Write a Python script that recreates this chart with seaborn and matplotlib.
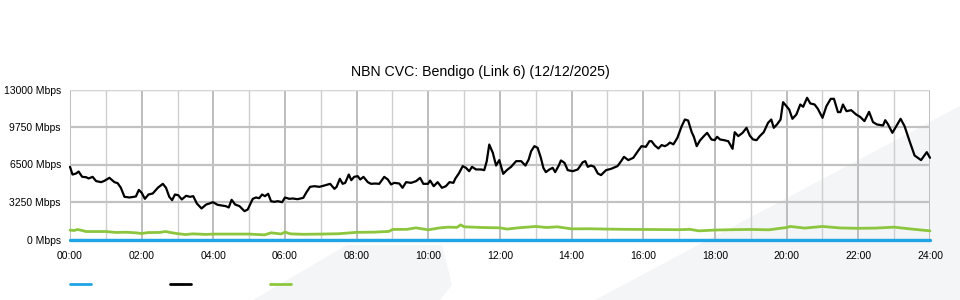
import matplotlib
matplotlib.use("Agg")
import matplotlib.pyplot as plt
from matplotlib.patches import Polygon
from matplotlib.ticker import MultipleLocator, FixedLocator
import seaborn as sns
import pandas as pd

# ---------------- data (hours of day, Mbps) ----------------
black_t = [0.00, 0.07, 0.17, 0.24, 0.34, 0.45, 0.52, 0.63, 0.73, 0.87, 0.96, 1.10, 1.24, 1.33, 1.42,
           1.52, 1.66, 1.84, 1.92, 2.00, 2.09, 2.19, 2.31, 2.45, 2.59, 2.68, 2.77, 2.85, 2.93, 3.02,
           3.12, 3.24, 3.35, 3.44, 3.54, 3.67, 3.80, 3.89, 3.99, 4.12, 4.24, 4.35, 4.43, 4.51, 4.61,
           4.73, 4.87, 4.96, 5.10, 5.19, 5.28, 5.36, 5.44, 5.53, 5.61, 5.70, 5.80, 5.92, 6.00, 6.12,
           6.21, 6.35, 6.51, 6.60, 6.70, 6.82, 6.96, 7.10, 7.26, 7.38, 7.44, 7.53, 7.61, 7.68, 7.78,
           7.85, 7.93, 8.03, 8.10, 8.19, 8.31, 8.40, 8.52, 8.63, 8.77, 8.87, 8.96, 9.05, 9.19, 9.28,
           9.38, 9.52, 9.66, 9.77, 9.86, 9.99, 10.05, 10.15, 10.26, 10.38, 10.49, 10.59, 10.70, 10.75,
           10.85, 10.96, 11.05, 11.14, 11.22, 11.33, 11.47, 11.56, 11.63, 11.70, 11.80, 11.89, 11.98,
           12.09, 12.19, 12.31, 12.45, 12.59, 12.71, 12.80, 12.87, 12.96, 13.05, 13.14, 13.21, 13.28,
           13.38, 13.47, 13.54, 13.64, 13.70, 13.80, 13.89, 14.03, 14.17, 14.31, 14.38, 14.45, 14.54,
           14.63, 14.73, 14.82, 14.96, 15.10, 15.28, 15.38, 15.46, 15.58, 15.72, 15.86, 15.95, 16.07,
           16.17, 16.23, 16.32, 16.42, 16.51, 16.60, 16.67, 16.74, 16.84, 16.95, 17.07, 17.16, 17.25,
           17.35, 17.41, 17.49, 17.58, 17.69, 17.78, 17.90, 17.99, 18.06, 18.14, 18.25, 18.37, 18.49,
           18.55, 18.65, 18.77, 18.88, 18.97, 19.06, 19.16, 19.25, 19.36, 19.48, 19.57, 19.64, 19.73,
           19.83, 19.90, 19.99, 20.07, 20.16, 20.27, 20.38, 20.46, 20.57, 20.66, 20.78, 20.87, 21.00,
           21.11, 21.23, 21.32, 21.43, 21.50, 21.57, 21.67, 21.80, 21.94, 22.05, 22.17, 22.30, 22.41,
           22.52, 22.69, 22.75, 22.82, 22.95, 23.06, 23.18, 23.29, 23.43, 23.57, 23.75, 23.91, 24.00]
black_v = [6300, 5630, 5720, 5890, 5430, 5400, 5290, 5430, 5060, 4970, 5085, 5345, 4970, 4880, 4480,
           3700, 3640, 3730, 4300, 4045, 3525, 3900, 3990, 4480, 4825, 4480, 3700, 3410, 3900, 3840,
           3470, 3785, 3700, 3755, 3120, 2690, 3030, 3120, 3235, 3005, 2950, 2890, 2775, 3440, 3030,
           2890, 2455, 2600, 3525, 3640, 3580, 3900, 3755, 3960, 3320, 3265, 3320, 3235, 3640, 3525,
           3555, 3495, 3610, 4100, 4565, 4620, 4565, 4680, 4825, 4390, 4565, 5260, 4825, 4910, 5630,
           5140, 5430, 5490, 5200, 5430, 4970, 4825, 4850, 4825, 5430, 5200, 4770, 4910, 4850, 4480,
           4970, 4910, 5060, 5345, 4825, 4825, 5110, 4620, 4970, 4480, 4620, 4970, 4910, 5260,
           5720, 6360, 6210, 5920, 6300, 6070, 6070, 6010, 6790, 8230, 7510, 6410, 6880,
           5690, 6010, 6300, 6790, 6790, 6410, 6930, 7660, 8090, 7945, 7080, 6210, 5840,
           6070, 6210, 5840, 6410, 6850, 6645, 6010, 5920, 6070, 6700, 6790, 6300, 6410,
           6300, 5720, 5580, 6010, 6125, 6360, 6790, 7165, 6880, 7080, 7710, 8090, 8030,
           8520, 8520, 8150, 7890, 8180, 8090, 8200, 8400, 8250, 8810, 9820, 10400, 10310,
           9300, 8900, 8090, 8580, 8960, 9245, 8670, 8610, 8900, 8670, 8610, 8520, 7860,
           9300, 8960, 9245, 9680, 9010, 8670, 8610, 8960, 9300, 10110, 10400, 9680, 9970,
           10400, 11900, 11560, 11270, 10460, 10830, 11700, 11500, 12280, 11790, 11700, 11325, 10545,
           11560, 12190, 12190, 11040, 11040, 11700, 11120, 11210, 10830, 10630, 10260, 11065, 10170,
           9970, 9880, 10340, 10025, 9245, 9820, 10460, 9820, 8520, 7280, 6880, 7570, 7080]

green_t = [0.00, 0.12, 0.21, 0.31, 0.45, 1.00, 1.28, 1.56, 1.84, 2.00, 2.17, 2.49, 2.67, 2.85, 3.04,
           3.23, 3.42, 3.80, 4.00, 4.50, 5.00, 5.43, 5.61, 5.89, 6.00, 6.15, 6.50, 7.00, 7.50, 8.00,
           8.50, 8.90, 9.00, 9.40, 9.65, 10.00, 10.30, 10.55, 10.80, 10.90, 11.00, 11.50, 12.00, 12.20,
           12.50, 13.00, 13.30, 13.60, 14.00, 14.50, 15.00, 15.50, 16.00, 16.50, 17.00, 17.30, 17.55,
           18.00, 18.50, 19.00, 19.50, 20.00, 20.10, 20.50, 21.00, 21.50, 22.00, 22.50, 23.00, 23.50,
           24.00]
green_v = [810, 780, 870, 800, 690, 690, 610, 630, 580, 520, 600, 610, 690, 580, 490,
           430, 490, 440, 470, 470, 470, 400, 580, 480, 640, 490, 450, 470, 500, 620,
           640, 700, 870, 880, 1010, 840, 1000, 1070, 1050, 1270, 1100, 1040, 1010, 900,
           1010, 1130, 1040, 1100, 920, 930, 900, 880, 870, 860, 850, 880, 750,
           820, 850, 870, 840, 1040, 1130, 990, 1130, 1000, 970, 990, 1070, 900,
           750]

blue_t = [0, 6, 12, 18, 24]
blue_v = [0, 0, 0, 0, 0]

y_ticks = [0, 3250, 6500, 9750, 13000]
y_labels = ["0 Mbps", "3250 Mbps", "6500 Mbps", "9750 Mbps", "13000 Mbps"]
x_ticks = list(range(0, 25, 2))
x_labels = ["00:00", "02:00", "04:00", "06:00", "08:00", "10:00", "12:00",
            "14:00", "16:00", "18:00", "20:00", "22:00", "24:00"]
title = "NBN CVC: Bendigo (Link 6) (12/12/2025)"

BLUE = "#1fa5e6"
BLACK = "#000000"
GREEN = "#8cc63e"

# ---------------- figure ----------------
sns.set_theme(style="white")
plt.rcParams["font.family"] = ["Liberation Sans", "DejaVu Sans"]

fig = plt.figure(figsize=(9.6, 3.0), dpi=100)
fig.patch.set_facecolor("white")
W, H = 960.0, 300.0
ax = fig.add_axes([70 / W, (H - 239.5) / H, 860 / W, 150 / H])
ax.set_facecolor("none")

# faint background watermark shapes
def px(pts):
    return [(x / W, 1 - y / H) for x, y in pts]
for pts in ([(253, 300), (347, 245), (442, 245), (452, 285), (440, 300)],
            [(595, 300), (960, 106), (960, 300)]):
    fig.patches.append(Polygon(px(pts), closed=True, transform=fig.transFigure,
                               facecolor="#f4f5f7", edgecolor="none", zorder=-5))

df_black = pd.DataFrame({"t": black_t, "v": black_v})
df_green = pd.DataFrame({"t": green_t, "v": green_v})
df_blue = pd.DataFrame({"t": blue_t, "v": blue_v})

sns.lineplot(data=df_green, x="t", y="v", ax=ax, color=GREEN, linewidth=2.0, zorder=4)
sns.lineplot(data=df_black, x="t", y="v", ax=ax, color=BLACK, linewidth=1.6, zorder=5)
sns.lineplot(data=df_blue, x="t", y="v", ax=ax, color=BLUE, linewidth=2.4, zorder=6)
for ln in ax.get_lines():
    ln.set_clip_on(False)

ax.set_xlim(0, 24)
ax.set_ylim(0, 13000)
ax.set_xlabel("")
ax.set_ylabel("")

ax.xaxis.set_major_locator(FixedLocator(x_ticks))
ax.xaxis.set_minor_locator(MultipleLocator(1))
ax.set_xticklabels(x_labels)
ax.yaxis.set_major_locator(FixedLocator(y_ticks))
ax.set_yticklabels(y_labels)

ax.grid(False)
ax.grid(which="major", axis="x", color="#bdbdbd", linewidth=1.4, zorder=0)
ax.grid(which="minor", axis="x", color="#cfcfcf", linewidth=1.0, zorder=0)
ax.grid(which="major", axis="y", color="#c2c2c2", linewidth=1.6, zorder=0)
ax.set_axisbelow(True)
for s in ax.spines.values():
    s.set_visible(False)
ax.axhline(13000, color="#d6d6d6", linewidth=1.0, zorder=1)

ax.tick_params(axis="both", which="both", length=0, labelsize=7.5, colors="#000000")
ax.tick_params(axis="y", pad=6.5)
ax.tick_params(axis="x", pad=8.5)

fig.text(480 / W, 1 - 72 / H, title, ha="center", va="center", fontsize=10.2, color="#000000")

# legend: coloured line swatches, no labels
handles = [ax.get_lines()[2], ax.get_lines()[1], ax.get_lines()[0]]
leg = fig.legend(handles, ["", "", ""], loc="center left",
                 bbox_to_anchor=(70 / W, 1 - 285 / H), ncol=3, frameon=False,
                 fontsize=7.5, handlelength=2.0, handletextpad=0.0,
                 columnspacing=7.6, borderpad=0, borderaxespad=0)
for h in leg.legend_handles:
    h.set_linewidth(2.0)

fig.savefig("out.png", dpi=100, facecolor="white")
